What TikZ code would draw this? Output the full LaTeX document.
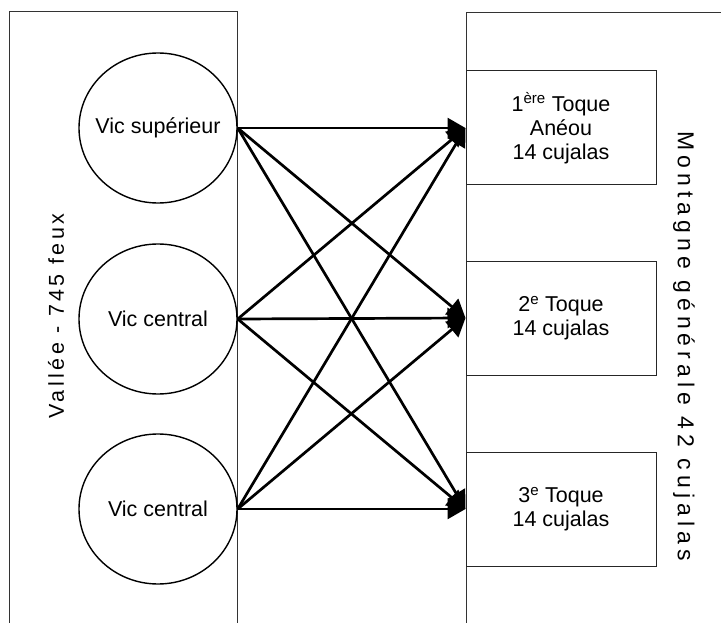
\documentclass[tikz,border=0pt]{standalone}
\usepackage{fontspec}
\setmainfont{Liberation Sans}
\newfontfamily\spacedA[LetterSpace=16]{Liberation Sans}
\newfontfamily\spacedB[LetterSpace=22]{Liberation Sans}
\usetikzlibrary{arrows.meta,shapes.geometric}
\begin{document}
\begin{tikzpicture}[x=1pt,y=-1pt,
  frame/.style={draw=black!80,line width=1pt},
  vic/.style={draw,ellipse,line width=1.4pt,minimum width=158pt,minimum height=150pt,inner sep=0pt,font=\fontsize{21.5}{24}\selectfont},
  toque/.style={draw=black!85,line width=1pt,minimum width=190pt,minimum height=114pt,inner sep=0pt,align=center,font=\fontsize{21.5}{24}\selectfont},
  flow/.style={line width=2.7pt,-{Triangle[length=18pt,width=20pt]}},
  side/.style={inner sep=0pt}]
\useasboundingbox (0,0) rectangle (721,623);
% frames
\draw[frame] (9,623) -- (9,12) -- (237,12) -- (237,623);
\draw[frame] (721,13) -- (466,13) -- (466,623);
% circles
\node[vic] (c1) at (158,128) {\makebox[0pt]{Vic supérieur}};
\node[vic] (c2) at (158,319) {\makebox[0pt]{Vic central}};
\node[vic] (c3) at (158,509) {\makebox[0pt]{Vic central}};
% boxes
\node[toque] (b1) at (561,128) {1\textsuperscript{ère} Toque\\Anéou\\14 cujalas};
\node[toque] (b2) at (561,318) {2\textsuperscript{e} Toque\\14 cujalas};
\node[toque] (b3) at (561,509) {3\textsuperscript{e} Toque\\14 cujalas};
% side labels
\node[side,rotate=90] (vallee) at (56,316) {\fontsize{21.5}{24}\spacedA Vallée - 745 feux};
\node[side,rotate=-90] (montagne) at (684,346) {\fontsize{23}{26}\spacedB Montagne générale 42 cujalas};
% connectors
\foreach \i in {1,2,3}{
  \foreach \j in {1,2,3}{
    \draw[flow] (c\i.east) -- (b\j.west);
  }
}
\end{tikzpicture}
\end{document}
